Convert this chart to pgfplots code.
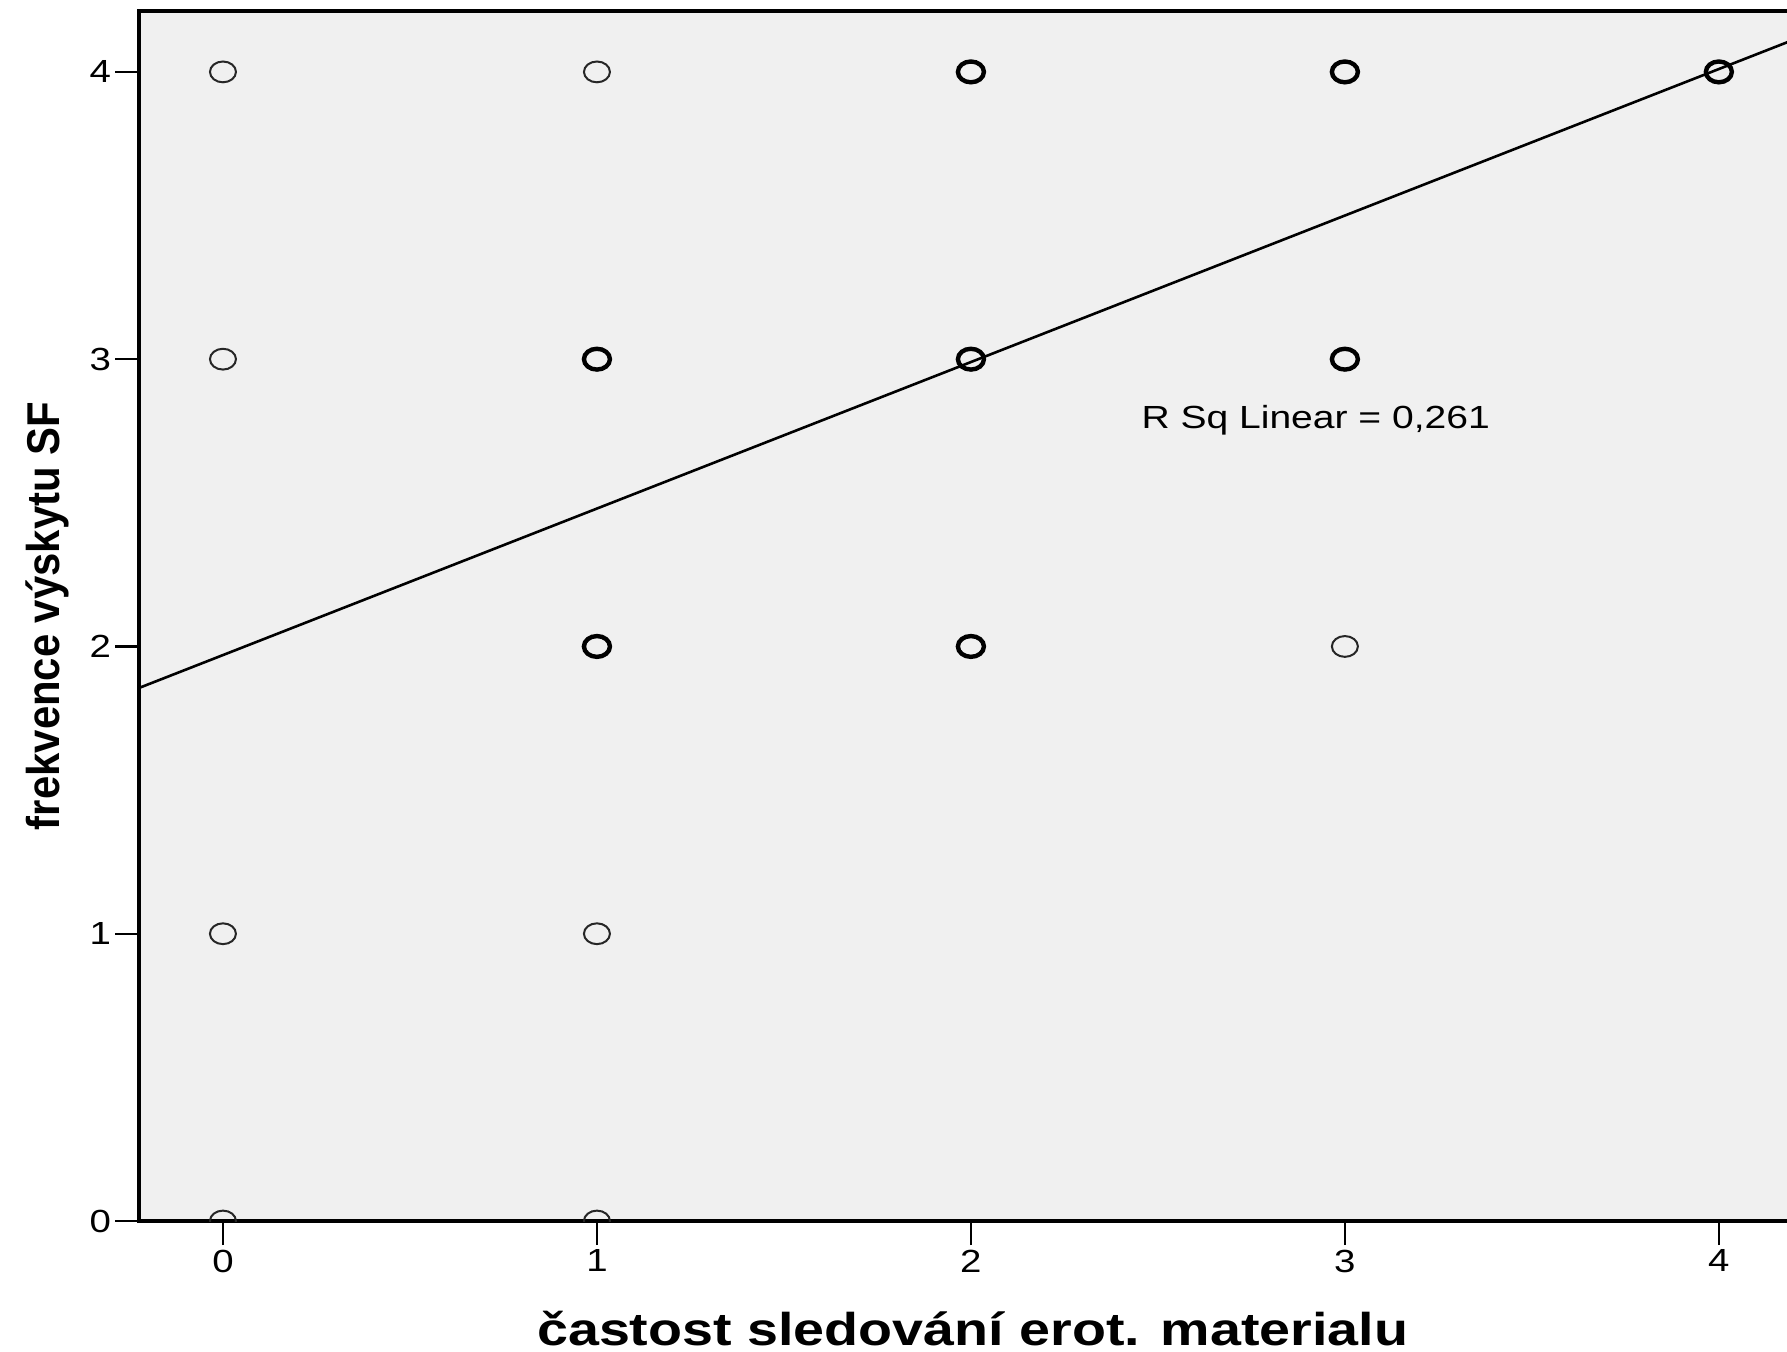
\documentclass[border=0pt]{standalone}
\usepackage{pgfplots}
\pgfplotsset{compat=1.18}
\usepackage{fontspec}
\setmainfont{Liberation Sans}
\definecolor{plotbg}{HTML}{F0F0F0}
\begin{document}
\begin{tikzpicture}
\begin{axis}[
  scale only axis,
  width=416pt, height=302.5pt,
  xmin=-0.2245, xmax=4.225,
  ymin=0, ymax=4.212,
  xtick={0,1,2,3,4}, ytick={0,1,2,3,4},
  tick align=outside, tick pos=left,
  major tick length=6pt,
  tick style={black, line width=0.6pt},
  axis line style={black, line width=0.9pt},
  axis background/.style={fill=plotbg},
  xticklabel={\scalebox{1.2}[1]{\pgfmathprintnumber[assume math mode=true]{\tick}}},
  yticklabel={\scalebox{1.2}[1]{\pgfmathprintnumber[assume math mode=true]{\tick}}},
  tick label style={font=\fontsize{8}{9.6}\selectfont},
  xticklabel style={inner sep=1pt},
  yticklabel style={inner sep=0.8pt},
  xlabel={\resizebox{217.75pt}{\height}{\bfseries častost sledování erot. materialu}},
  ylabel={\resizebox{107pt}{\height}{\bfseries frekvence výskytu SF}},
  xlabel style={font=\fontsize{11.5}{13}\selectfont, at={(axis description cs:0.501,0)}, anchor=center, yshift=-27pt},
  ylabel style={font=\fontsize{11.5}{13}\selectfont, at={(axis description cs:0,0.5)}, anchor=center, yshift=23pt},
  clip marker paths=true,
]
% fit line
\addplot[black, line width=0.65pt, no marks] coordinates {(-0.25,1.8425) (4.3,4.163)};
% thin circles (single cases)
\addplot[only marks, mark=o, mark size=2.6pt, mark options={xscale=1.25, line width=0.5pt, draw=black!85}] coordinates {
 (0,4) (1,4) (0,3) (0,1) (1,1) (0,0) (1,0) (3,2)
};
% bold circles (overlapping cases)
\addplot[only marks, mark=o, mark size=2.6pt, mark options={xscale=1.25, line width=1.1pt, draw=black}] coordinates {
 (2,4) (3,4) (4,4) (1,3) (2,3) (3,3) (1,2) (2,2)
};
\node[font=\fontsize{8}{9.6}\selectfont] at (axis cs:2.922,2.789) {\scalebox{1.22}[1]{R Sq Linear = 0,261}};
\end{axis}
\pgfresetboundingbox
\useasboundingbox ([xshift=-34.75pt,yshift=-32.5pt]current axis.south west) rectangle ([xshift=-4pt,yshift=2.75pt]current axis.north east);
\end{tikzpicture}
\end{document}
